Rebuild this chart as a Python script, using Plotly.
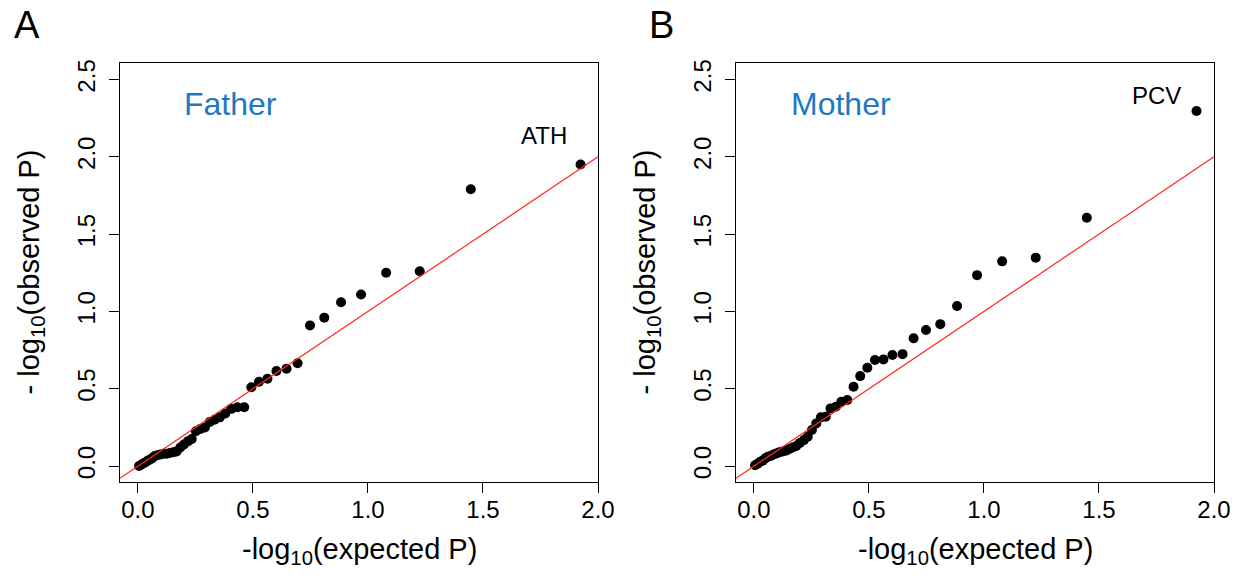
import plotly.graph_objects as go

# Expected -log10(P) quantiles (42 tests), shared by both panels
expected = [0.005, 0.016, 0.027, 0.038, 0.049, 0.061, 0.073, 0.085, 0.098, 0.111,
            0.125, 0.139, 0.154, 0.168, 0.184, 0.200, 0.217, 0.234, 0.252, 0.271,
            0.291, 0.312, 0.333, 0.356, 0.380, 0.406, 0.433, 0.462, 0.493, 0.526,
            0.563, 0.602, 0.646, 0.694, 0.748, 0.810, 0.883, 0.970, 1.079, 1.225,
            1.447, 1.924]

# Observed -log10(P), father
father_obs = [0.000, 0.010, 0.020, 0.030, 0.040, 0.050, 0.065, 0.070, 0.075, 0.080,
              0.080, 0.085, 0.090, 0.095, 0.120, 0.140, 0.160, 0.175, 0.225, 0.240,
              0.250, 0.285, 0.300, 0.315, 0.340, 0.370, 0.380, 0.380, 0.510, 0.545,
              0.565, 0.615, 0.630, 0.665, 0.910, 0.960, 1.060, 1.110, 1.250, 1.260,
              1.790, 1.950]

# Observed -log10(P), mother
mother_obs = [0.005, 0.015, 0.028, 0.035, 0.050, 0.060, 0.065, 0.075, 0.082, 0.090,
              0.095, 0.100, 0.110, 0.120, 0.130, 0.150, 0.168, 0.190, 0.233, 0.276,
              0.315, 0.319, 0.373, 0.384, 0.416, 0.427, 0.513, 0.582, 0.636, 0.686,
              0.690, 0.718, 0.724, 0.826, 0.880, 0.918, 1.035, 1.235, 1.324, 1.348,
              1.606, 2.296]

panel_labels = ["A", "B"]
panel_titles = ["Father", "Mother"]
top_labels = ["ATH", "PCV"]

x_ticks = [0.0, 0.5, 1.0, 1.5, 2.0]
y_ticks = [0.0, 0.5, 1.0, 1.5, 2.0, 2.5]
x_range = [-0.078, 2.0]
y_range = [-0.103, 2.607]

W, H = 1244, 581
FONT = "Liberation Sans, Arial, sans-serif"
BLUE = "#1F78C0"

fig = go.Figure()

# Pixel boxes of the two plot regions: (left, right, top, bottom)
boxes = [(120, 598, 63, 482), (736, 1214, 63, 482)]
letter_x = [27, 661]
title_x = [0.19, 0.152]
series = [father_obs, mother_obs]

for k, (obs, box) in enumerate(zip(series, boxes)):
    xa = "x" if k == 0 else "x2"
    ya = "y" if k == 0 else "y2"
    fig.add_trace(go.Scatter(
        x=expected, y=obs, mode="markers", xaxis=xa, yaxis=ya,
        marker=dict(color="black", size=10, line=dict(width=0)),
        showlegend=False, hoverinfo="skip"))
    # y = x reference line
    fig.add_trace(go.Scatter(
        x=x_range, y=x_range, mode="lines", xaxis=xa, yaxis=ya,
        line=dict(color="#FF2A1A", width=1.2),
        showlegend=False, hoverinfo="skip"))

    l, r, t, b = box
    axis_common = dict(
        showline=True, linecolor="black", linewidth=1.3, mirror=True,
        ticks="outside", ticklen=10, tickwidth=1.3, tickcolor="black",
        showgrid=False, zeroline=False, automargin=False,
        tickfont=dict(family=FONT, size=24, color="black"),
    )
    xaxis = dict(axis_common, domain=[l / W, r / W], range=x_range,
                 tickvals=x_ticks, ticktext=[f"{v:.1f}" for v in x_ticks],
                 anchor=ya, ticklabelstandoff=-4)
    yaxis = dict(axis_common, domain=[1 - b / H, 1 - t / H], range=y_range,
                 tickvals=y_ticks, ticktext=[f"{v:.1f}" for v in y_ticks],
                 tickangle=-90, anchor=xa, ticklabelstandoff=4)
    if k == 0:
        fig.update_layout(xaxis=xaxis, yaxis=yaxis)
    else:
        fig.update_layout(xaxis2=xaxis, yaxis2=yaxis)

    cx = (l + r) / 2
    cy = (t + b) / 2
    # axis titles
    fig.add_annotation(
        x=cx / W, y=1 - 551 / H, xref="paper", yref="paper",
        text="-log<sub>10</sub>(expected P)", showarrow=False,
        font=dict(family=FONT, size=29, color="black"),
        xanchor="center", yanchor="middle")
    fig.add_annotation(
        x=(l - 90) / W, y=1 - cy / H, xref="paper", yref="paper",
        text="- log<sub>10</sub>(observed P)", showarrow=False, textangle=-90,
        font=dict(family=FONT, size=29, color="black"),
        xanchor="center", yanchor="middle")
    # panel letter
    fig.add_annotation(
        x=letter_x[k] / W, y=1 - 25 / H, xref="paper", yref="paper",
        text=panel_labels[k], showarrow=False,
        font=dict(family=FONT, size=38, color="black"),
        xanchor="center", yanchor="middle")
    # group name inside the panel
    fig.add_annotation(
        x=title_x[k], y=2.34, xref=xa, yref=ya,
        text=panel_titles[k], showarrow=False,
        font=dict(family=FONT, size=32, color=BLUE),
        xanchor="left", yanchor="middle")

# labels for the top hit in each panel
fig.add_annotation(x=1.765, y=2.14, xref="x", yref="y", text=top_labels[0],
                   showarrow=False, font=dict(family=FONT, size=24, color="black"),
                   xanchor="center", yanchor="middle")
fig.add_annotation(x=1.752, y=2.40, xref="x2", yref="y2", text=top_labels[1],
                   showarrow=False, font=dict(family=FONT, size=24, color="black"),
                   xanchor="center", yanchor="middle")

fig.update_layout(
    width=W, height=H,
    margin=dict(l=0, r=0, t=0, b=0, autoexpand=False),
    paper_bgcolor="white", plot_bgcolor="white",
    showlegend=False,
)

fig.write_html("out.html")
